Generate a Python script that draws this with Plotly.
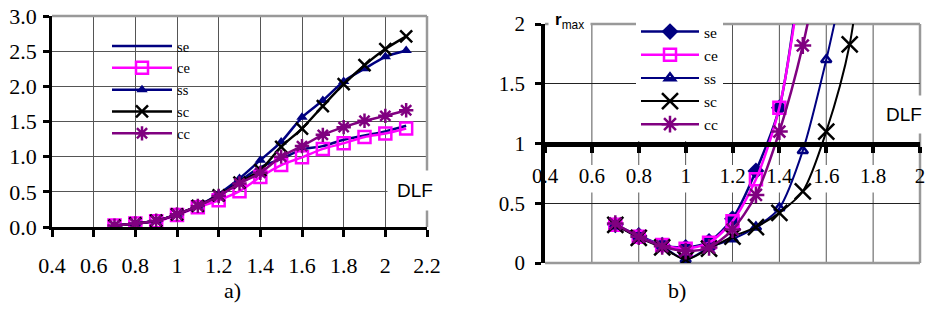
import plotly.graph_objects as go

# ---------------- data ----------------
dlf = [0.7, 0.8, 0.9, 1.0, 1.1, 1.2, 1.3, 1.4, 1.5, 1.6, 1.7, 1.8, 1.9, 2.0, 2.1]

# panel a)
a_se = [0.02, 0.05, 0.09, 0.18, 0.30, 0.45, 0.65, 0.85, 0.97, 1.10, 1.15, 1.24, 1.30, 1.36, 1.44]
a_ce = [0.02, 0.05, 0.08, 0.17, 0.28, 0.38, 0.51, 0.71, 0.88, 0.99, 1.11, 1.19, 1.28, 1.33, 1.40]
a_ss = [0.02, 0.05, 0.09, 0.18, 0.30, 0.47, 0.69, 0.95, 1.21, 1.56, 1.80, 2.07, 2.25, 2.42, 2.51]
a_sc = [0.02, 0.05, 0.09, 0.18, 0.30, 0.45, 0.63, 0.81, 1.14, 1.40, 1.72, 2.03, 2.30, 2.53, 2.71]
a_cc = [0.02, 0.05, 0.09, 0.18, 0.30, 0.44, 0.62, 0.77, 1.00, 1.15, 1.31, 1.42, 1.51, 1.58, 1.66]

# panel b)
b_se = [0.32, 0.23, 0.15, 0.13, 0.18, 0.37, 0.77, 1.30, 2.60]
b_ce = [0.32, 0.22, 0.15, 0.12, 0.17, 0.35, 0.70, 1.30, 2.50]
b_ss = [0.32, 0.22, 0.14, 0.03, 0.13, 0.20, 0.30, 0.46, 0.94, 1.70, 2.60]
b_sc = [0.32, 0.21, 0.13, 0.03, 0.12, 0.22, 0.30, 0.42, 0.60, 1.10, 1.83, 3.40]
b_cc = [0.33, 0.22, 0.14, 0.10, 0.13, 0.28, 0.57, 1.10, 1.82, 2.80]

a_xticks = [0.4, 0.6, 0.8, 1.0, 1.2, 1.4, 1.6, 1.8, 2.0, 2.2]
b_xticks = [0.4, 0.6, 0.8, 1.0, 1.2, 1.4, 1.6, 1.8, 2.0]

NAVY, PINK, BLACK, PURPLE = "#000080", "#FF00FF", "#000000", "#800080"
SERIF = "Liberation Serif, Times New Roman, serif"
SANS = "Liberation Sans, Arial, sans-serif"
W, H = 931, 324

fig = go.Figure()

line = dict(width=2.5, shape="spline", smoothing=0.8)

# ---- panel a) traces ----
fig.add_trace(go.Scatter(x=dlf, y=a_se, name="se", mode="lines",
                         line=dict(color=NAVY, **line), xaxis="x", yaxis="y", legend="legend"))
fig.add_trace(go.Scatter(x=dlf, y=a_ce, name="ce", mode="lines+markers",
                         line=dict(color=PINK, **line),
                         marker=dict(symbol="square-open", size=12, color=PINK, line=dict(width=2.5)),
                         xaxis="x", yaxis="y", legend="legend"))
fig.add_trace(go.Scatter(x=dlf, y=a_ss, name="ss", mode="lines+markers",
                         line=dict(color=NAVY, **line),
                         marker=dict(symbol="triangle-up", size=10, color=NAVY),
                         xaxis="x", yaxis="y", legend="legend"))
fig.add_trace(go.Scatter(x=dlf, y=a_sc, name="sc", mode="lines+markers",
                         line=dict(color=BLACK, **line),
                         marker=dict(symbol="x-thin-open", size=12, color=BLACK, line=dict(width=2.5, color=BLACK)),
                         xaxis="x", yaxis="y", legend="legend"))
fig.add_trace(go.Scatter(x=dlf, y=a_cc, name="cc", mode="lines+markers",
                         line=dict(color=PURPLE, **line),
                         marker=dict(symbol="asterisk-open", size=12, color=PURPLE, line=dict(width=2.5, color=PURPLE)),
                         xaxis="x", yaxis="y", legend="legend"))

# ---- panel b) traces ----
def bx(vals):
    return dlf[:len(vals)]

fig.add_trace(go.Scatter(x=bx(b_se), y=b_se, name="se", mode="lines+markers",
                         line=dict(color=NAVY, **line),
                         marker=dict(symbol="diamond", size=13, color=NAVY),
                         xaxis="x2", yaxis="y2", legend="legend2"))
fig.add_trace(go.Scatter(x=bx(b_ce), y=b_ce, name="ce", mode="lines+markers",
                         line=dict(color=PINK, **line),
                         marker=dict(symbol="square-open", size=12, color=PINK, line=dict(width=2.5)),
                         xaxis="x2", yaxis="y2", legend="legend2"))
fig.add_trace(go.Scatter(x=bx(b_ss), y=b_ss, name="ss", mode="lines+markers",
                         line=dict(color=NAVY, width=2, shape="spline", smoothing=0.8),
                         marker=dict(symbol="triangle-up-open", size=9, color=NAVY, line=dict(width=2.5)),
                         xaxis="x2", yaxis="y2", legend="legend2"))
fig.add_trace(go.Scatter(x=bx(b_sc), y=b_sc, name="sc", mode="lines+markers",
                         line=dict(color=BLACK, width=2, shape="spline", smoothing=0.8),
                         marker=dict(symbol="x-thin-open", size=16, color=BLACK, line=dict(width=2.5, color=BLACK)),
                         xaxis="x2", yaxis="y2", legend="legend2"))
fig.add_trace(go.Scatter(x=bx(b_cc), y=b_cc, name="cc", mode="lines+markers",
                         line=dict(color=PURPLE, **line),
                         marker=dict(symbol="asterisk-open", size=14, color=PURPLE, line=dict(width=2.5, color=PURPLE)),
                         xaxis="x2", yaxis="y2", legend="legend2"))

# ---- geometry (pixels -> paper) ----
def px(x):
    return x / W

def py(y):
    return (H - y) / H

a_dom_x = [px(52), px(427)]
a_dom_y = [py(227), py(16)]
b_dom_x = [px(545), px(920)]
b_dom_y = [py(263), py(24)]
b_axis_pos = b_dom_y[0] + (b_dom_y[1] - b_dom_y[0]) * 0.5  # y = 1 crossing

GRID = "#555555"
BORDER = "#999999"

fig.update_layout(
    template="none",
    width=W, height=H,
    margin=dict(l=0, r=0, t=0, b=0, autoexpand=False),
    paper_bgcolor="white", plot_bgcolor="white",
    font=dict(family=SERIF, color="black"),
    xaxis=dict(domain=a_dom_x, anchor="y", range=[0.4, 2.2], tickvals=a_xticks,
               automargin=False,
               showgrid=True, gridcolor=GRID, gridwidth=1,
               showline=True, linecolor="black", linewidth=2.5,
               ticks="outside", ticklen=7, tickwidth=2.5, tickcolor="black",
               ticklabelstandoff=10, zeroline=False,
               tickfont=dict(family=SERIF, size=22, color="black")),
    yaxis=dict(domain=a_dom_y, anchor="x", range=[0, 3.0], dtick=0.5, tickformat=".1f",
               automargin=False,
               showgrid=True, gridcolor=GRID, gridwidth=1,
               showline=True, linecolor="black", linewidth=2.5,
               ticks="outside", ticklen=6, tickwidth=2.5, tickcolor="black",
               ticklabelstandoff=2, zeroline=False,
               tickfont=dict(family=SERIF, size=22, color="black")),
    xaxis2=dict(domain=b_dom_x, anchor="free", position=b_axis_pos, range=[0.4, 2.0],
                tickvals=b_xticks, automargin=False,
                showgrid=False,
                showline=True, linecolor="black", linewidth=5,
                ticks="outside", ticklen=6, tickwidth=4, tickcolor="black",
                ticklabelstandoff=5, zeroline=False,
                tickfont=dict(family=SERIF, size=21, color="black")),
    yaxis2=dict(domain=b_dom_y, anchor="x2", range=[0, 2], dtick=0.5,
                automargin=False,
                showgrid=True, gridcolor="#222222", gridwidth=1,
                showline=True, linecolor="black", linewidth=3.5,
                ticks="outside", ticklen=6, tickwidth=3, tickcolor="black",
                ticklabelstandoff=6, zeroline=False,
                tickfont=dict(family=SERIF, size=21, color="black")),
    legend=dict(x=px(107), y=py(30), xanchor="left", yanchor="top",
                bgcolor="rgba(0,0,0,0)", font=dict(family=SERIF, size=14.5, color="black"),
                tracegroupgap=0, itemwidth=60, traceorder="normal", borderwidth=0),
    legend2=dict(x=px(636), y=py(15), xanchor="left", yanchor="top",
                 bgcolor="white", font=dict(family=SERIF, size=15.5, color="black"),
                 tracegroupgap=0, itemwidth=58, traceorder="normal", borderwidth=0),
    showlegend=True,
)

shapes = []
# panel a) frame (top and right)
shapes.append(dict(type="line", xref="x domain", yref="y domain", x0=0, x1=1, y0=1, y1=1,
                   line=dict(color=BORDER, width=2.5), layer="above"))
shapes.append(dict(type="line", xref="x domain", yref="y domain", x0=1, x1=1, y0=0, y1=1,
                   line=dict(color=BORDER, width=2.5), layer="above"))
# panel b) vertical grid lines
for xv in b_xticks[1:-1]:
    shapes.append(dict(type="line", xref="x2", yref="y2 domain", x0=xv, x1=xv, y0=0, y1=1,
                       line=dict(color=GRID, width=1), layer="below"))
# panel b) white band behind the crossing axis tick labels
shapes.append(dict(type="rect", xref="x2 domain", yref="y2 domain", x0=0, x1=1,
                   y0=0.295, y1=0.41, fillcolor="white", line=dict(width=0), layer="below"))
# panel b) frame (top, right, bottom)
for (x0, x1, y0, y1) in [(0, 1, 1, 1), (1, 1, 0, 1), (0, 1, 0, 0)]:
    shapes.append(dict(type="line", xref="x2 domain", yref="y2 domain", x0=x0, x1=x1, y0=y0, y1=y1,
                       line=dict(color=BORDER, width=2.5), layer="below"))
fig.update_layout(shapes=shapes)

ann = []
ann.append(dict(text="DLF", x=px(415), y=py(191), xref="paper", yref="paper",
                showarrow=False, font=dict(family=SANS, size=19, color="black"),
                bgcolor="white", borderpad=9))
ann.append(dict(text="DLF", x=px(931), y=py(114), xref="paper", yref="paper", xanchor="right",
                showarrow=False, font=dict(family=SANS, size=19, color="black"),
                bgcolor="white", borderpad=8))
ann.append(dict(text="<b>r</b><sub>max</sub>", x=px(548), y=py(3), xref="paper", yref="paper",
                xanchor="left", yanchor="top",
                showarrow=False, font=dict(family=SANS, size=17, color="black"),
                bgcolor="white", borderpad=6))
ann.append(dict(text="a)", x=px(222), y=py(305), xref="paper", yref="paper",
                showarrow=False, font=dict(family=SERIF, size=22, color="black")))
ann.append(dict(text="b)", x=px(688), y=py(305), xref="paper", yref="paper",
                showarrow=False, font=dict(family=SERIF, size=22, color="black")))
fig.update_layout(annotations=ann)

fig.write_html("out.html")
